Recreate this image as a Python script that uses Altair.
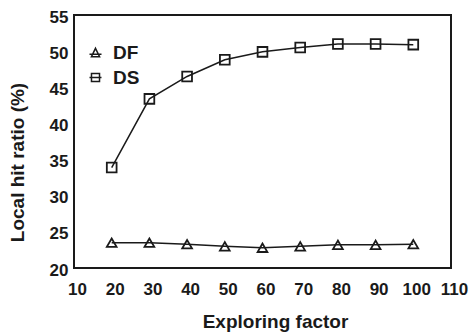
import altair as alt
import pandas as pd

# Exploring factor values on the x axis
exploring_factor = [20, 30, 40, 50, 60, 70, 80, 90, 100]

# Local hit ratio (%) for each scheme
df_ratio = [23.5, 23.5, 23.3, 23.0, 22.8, 23.0, 23.2, 23.2, 23.3]
ds_ratio = [33.9, 43.4, 46.5, 48.8, 49.9, 50.5, 51.0, 51.0, 50.9]

series_names = ["DF", "DS"]

x_ticks = [10, 20, 30, 40, 50, 60, 70, 80, 90, 100, 110]
y_ticks = [20, 25, 30, 35, 40, 45, 50, 55]

rows = []
for name, values in zip(series_names, [df_ratio, ds_ratio]):
    for xv, yv in zip(exploring_factor, values):
        rows.append({"factor": xv, "ratio": yv, "series": name})
data = pd.DataFrame(rows)

FONT = "Liberation Sans"
INK = "#1a1a1a"

x_enc = alt.X(
    "factor:Q",
    scale=alt.Scale(domain=[10, 110], nice=False),
    axis=alt.Axis(
        title="Exploring factor",
        values=x_ticks,
        grid=False, ticks=False, domain=False,
        labelOverlap=False, labelFlush=False, labelBound=False,
        labelFont=FONT, labelFontSize=17, labelFontWeight="bold",
        labelColor=INK, labelPadding=13, labelOffset=3,
        titleFont=FONT, titleFontSize=19, titleFontWeight="bold",
        titleColor=INK, titleX=201, titleY=53, titleBaseline="middle",
    ),
)
y_enc = alt.Y(
    "ratio:Q",
    scale=alt.Scale(domain=[20, 55], nice=False, zero=False),
    axis=alt.Axis(
        title="Local hit ratio (%)",
        values=y_ticks,
        grid=False, ticks=False, domain=False,
        labelOverlap=False, labelFlush=False, labelBound=False,
        labelFont=FONT, labelFontSize=17, labelFontWeight="bold",
        labelColor=INK, labelPadding=6, labelOffset=2,
        titleFont=FONT, titleFontSize=19, titleFontWeight="bold",
        titleColor=INK, titleX=-57, titleY=147, titleAngle=270,
        titleBaseline="middle",
    ),
)

base = alt.Chart(data)

lines = base.mark_line(color=INK, strokeWidth=1.5).encode(
    x=x_enc, y=y_enc, detail="series:N"
)

points = base.mark_point(
    filled=False, color=INK, strokeWidth=1.8, size=95, opacity=1
).encode(
    x=x_enc,
    y=y_enc,
    shape=alt.Shape(
        "series:N",
        scale=alt.Scale(domain=series_names, range=["triangle-up", "square"]),
        legend=None,
    ),
)

# legend glyphs: marker with a short line through it
tri_glyph = "M-1,0.3L1,0.3M0,-0.7L0.68,0.7L-0.68,0.7Z"
sq_glyph = "M-1,0L1,0M-0.67,-0.67L0.67,-0.67L0.67,0.67L-0.67,0.67Z"

legend_layer = base.mark_point(
    filled=False, color=INK, strokeWidth=1.5, opacity=0
).encode(
    x=x_enc,
    y=y_enc,
    shape=alt.Shape(
        "series:N",
        scale=alt.Scale(domain=series_names, range=[tri_glyph, sq_glyph]),
        legend=alt.Legend(
            title=None, orient="none", legendX=12, legendY=28,
            symbolSize=144, symbolStrokeWidth=1.5, symbolStrokeColor=INK,
            symbolFillColor="transparent", symbolOpacity=1,
            labelFont=FONT, labelFontSize=19, labelFontWeight="bold",
            labelColor=INK, labelOffset=8, rowPadding=5,
        ),
    ),
)

chart = (
    alt.layer(lines, points, legend_layer)
    .resolve_scale(shape="independent")
    .properties(
        width=377,
        height=253,
        autosize=alt.AutoSizeParams(type="none"),
        padding={"left": 74, "top": 15, "right": 22, "bottom": 64},
        background="white",
    )
    .configure_view(stroke=INK, strokeWidth=2)
)

chart.save("out.html", embed_options={"renderer": "svg", "actions": False})
